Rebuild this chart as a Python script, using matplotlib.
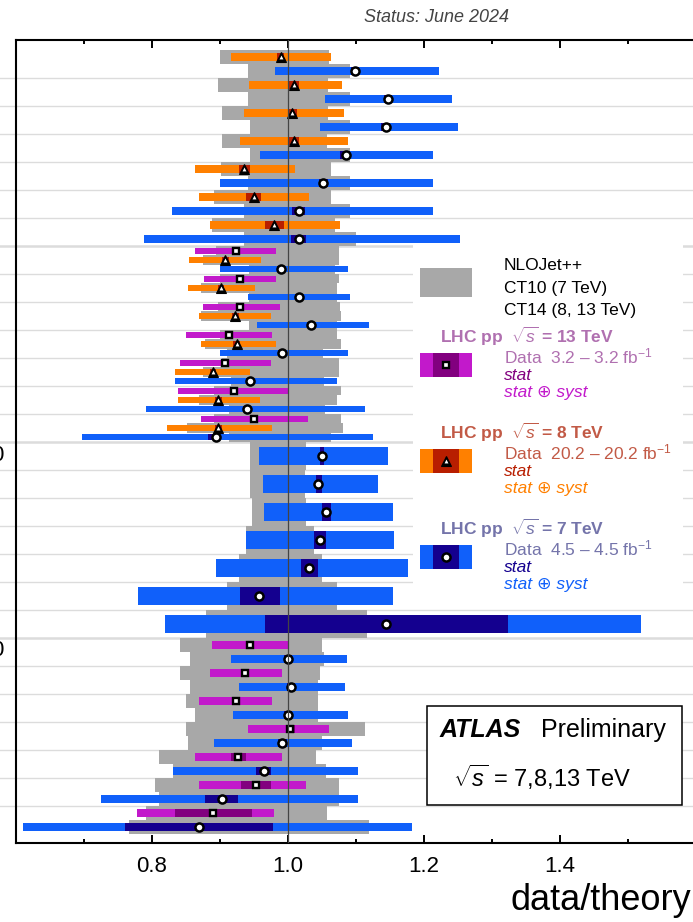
import numpy as np
import matplotlib
matplotlib.use("Agg")
import matplotlib.pyplot as plt
from matplotlib.patches import Rectangle
from matplotlib.ticker import FixedLocator

plt.rcParams["font.family"] = ["Liberation Sans", "DejaVu Sans"]
plt.rcParams["mathtext.fontset"] = "custom"
plt.rcParams["mathtext.rm"] = "Liberation Sans"
plt.rcParams["mathtext.it"] = "Liberation Sans:italic"
plt.rcParams["mathtext.bf"] = "Liberation Sans:bold"

W, H = 693, 922

# which measurements appear in each row, top to bottom
row_sets = [("8", "7")] * 7 + [("13", "8", "7")] * 7 + [("7",)] * 7 + [("13", "7")] * 7

# 7 TeV, one entry per row
r7 = [1.099, 1.148, 1.144, 1.086, 1.052, 1.016, 1.016,
      0.990, 1.017, 1.034, 0.992, 0.945, 0.940, 0.894,
      1.050, 1.045, 1.057, 1.047, 1.031, 0.958, 1.145,
      1.000, 1.005, 1.000, 0.992, 0.965, 0.903, 0.869]
tot_lo7 = [0.982, 1.055, 1.048, 0.960, 0.901, 0.830, 0.788,
           0.900, 0.942, 0.955, 0.901, 0.835, 0.791, 0.698,
           0.958, 0.963, 0.965, 0.939, 0.895, 0.780, 0.819,
           0.917, 0.929, 0.919, 0.891, 0.832, 0.726, 0.611]
tot_hi7 = [1.223, 1.241, 1.250, 1.214, 1.214, 1.214, 1.254,
           1.088, 1.092, 1.119, 1.089, 1.072, 1.113, 1.125,
           1.147, 1.133, 1.155, 1.157, 1.177, 1.155, 1.519,
           1.087, 1.085, 1.088, 1.094, 1.104, 1.104, 1.183]
stat_lo7 = [1.093, 1.142, 1.137, 1.077, 1.046, 1.007, 1.005,
            0.984, 1.011, 1.028, 0.986, 0.939, 0.934, 0.883,
            1.047, 1.041, 1.051, 1.038, 1.019, 0.930, 0.966,
            0.994, 0.999, 0.994, 0.986, 0.954, 0.879, 0.761]
stat_hi7 = [1.105, 1.154, 1.150, 1.092, 1.060, 1.025, 1.027,
            0.996, 1.023, 1.040, 0.998, 0.951, 0.946, 0.901,
            1.054, 1.051, 1.064, 1.056, 1.045, 0.988, 1.324,
            1.006, 1.011, 1.006, 0.999, 0.976, 0.927, 0.979]
th_lo7 = [0.942, 0.942, 0.944, 0.944, 0.941, 0.936, 0.935,
          0.943, 0.943, 0.943, 0.910, 0.917, 0.913, 0.914,
          0.945, 0.945, 0.948, 0.939, 0.929, 0.911, 0.880,
          0.857, 0.856, 0.863, 0.853, 0.832, 0.810, 0.766]
th_hi7 = [1.091, 1.092, 1.092, 1.092, 1.092, 1.092, 1.101,
          1.070, 1.072, 1.072, 1.052, 1.054, 1.055, 1.064,
          1.027, 1.025, 1.027, 1.038, 1.050, 1.072, 1.116,
          1.054, 1.045, 1.045, 1.050, 1.057, 1.076, 1.120]

# 8 TeV
r8 = [0.990, 1.009, 1.007, 1.009, 0.936, 0.950, 0.980,
      0.908, 0.902, 0.923, 0.925, 0.890, 0.898, 0.898]
tot_lo8 = [0.916, 0.943, 0.935, 0.930, 0.863, 0.870, 0.885,
           0.855, 0.854, 0.870, 0.872, 0.835, 0.838, 0.823]
tot_hi8 = [1.064, 1.080, 1.083, 1.089, 1.011, 1.032, 1.077,
           0.961, 0.952, 0.976, 0.983, 0.945, 0.960, 0.977]
stat_lo8 = [0.985, 1.002, 1.000, 1.001, 0.929, 0.939, 0.966,
            0.903, 0.897, 0.918, 0.920, 0.885, 0.893, 0.893]
stat_hi8 = [0.995, 1.016, 1.014, 1.016, 0.945, 0.961, 0.994,
            0.913, 0.907, 0.928, 0.930, 0.895, 0.903, 0.903]
th_lo8 = [0.901, 0.898, 0.904, 0.904, 0.902, 0.892, 0.889,
          0.875, 0.872, 0.873, 0.879, 0.876, 0.869, 0.852]
th_hi8 = [1.061, 1.060, 1.060, 1.058, 1.063, 1.063, 1.069,
          1.075, 1.072, 1.078, 1.078, 1.076, 1.073, 1.082]

# 13 TeV
r13 = [0.924, 0.930, 0.930, 0.914, 0.908, 0.921, 0.951,
       0.944, 0.937, 0.924, 1.003, 0.927, 0.953, 0.890]
tot_lo13 = [0.863, 0.877, 0.875, 0.851, 0.842, 0.838, 0.872,
            0.888, 0.885, 0.869, 0.941, 0.863, 0.870, 0.779]
tot_hi13 = [0.983, 0.983, 0.988, 0.977, 0.976, 1.000, 1.030,
            1.000, 0.991, 0.977, 1.061, 0.991, 1.027, 0.980]
stat_lo13 = [0.919, 0.925, 0.925, 0.909, 0.903, 0.916, 0.946,
             0.939, 0.932, 0.919, 0.997, 0.917, 0.932, 0.835]
stat_hi13 = [0.929, 0.935, 0.935, 0.919, 0.913, 0.926, 0.956,
             0.949, 0.942, 0.929, 1.010, 0.938, 0.975, 0.947]
th_lo13 = [0.895, 0.901, 0.898, 0.900, 0.903, 0.891, 0.891,
           0.841, 0.841, 0.851, 0.850, 0.810, 0.805, 0.791]
th_hi13 = [1.076, 1.076, 1.077, 1.073, 1.076, 1.079, 1.079,
           1.051, 1.047, 1.045, 1.113, 1.041, 1.075, 1.058]

x_major = [0.8, 1.0, 1.2, 1.4]
x_minor = [0.7, 0.9, 1.1, 1.3, 1.5]
x_labels = ["0.8", "1.0", "1.2", "1.4"]

GREY = "#a8a8a8"
style = {
    "7": dict(syst="#1060fa", stat="#14008f", marker="o"),
    "8": dict(syst="#ff8000", stat="#b81e00", marker="^"),
    "13": dict(syst="#c219cb", stat="#82007f", marker="s"),
}
data = {
    "7": (r7, tot_lo7, tot_hi7, stat_lo7, stat_hi7, th_lo7, th_hi7),
    "8": (r8, tot_lo8, tot_hi8, stat_lo8, stat_hi8, th_lo8, th_hi8),
    "13": (r13, tot_lo13, tot_hi13, stat_lo13, stat_hi13, th_lo13, th_hi13),
}

# sub-row centre and height for every entry
ypos = {k: [] for k in style}
yh = {k: [] for k in style}
for row, keys in enumerate(row_sets):
    n = len(keys)
    for j, key in enumerate(keys):
        ypos[key].append(row + (j + 0.5) / n)
        yh[key].append(1.0 / n)


def fx(px):
    return px / W


def fy(py):
    return 1 - py / H


def draw_marker(ax, x, y, kind, transform=None, zorder=6):
    kw = dict(linestyle="none", zorder=zorder, clip_on=False)
    if transform is not None:
        kw["transform"] = transform
    if kind == "o":
        ax.plot(x, y, "o", ms=5.8, mfc="white", mec="black", mew=1.8, **kw)
    elif kind == "s":
        ax.plot(x, y, "s", ms=5.0, mfc="white", mec="black", mew=1.7, **kw)
    else:
        ax.plot(x, y, "^", ms=7.4, mfc="black", mec="black", mew=0.8, **kw)
        ax.plot(x, y, "^", ms=2.8, mfc="white", mec="white", mew=0, **kw)


fig = plt.figure(figsize=(W / 100, H / 100), dpi=100)
ax = fig.add_axes([fx(15.7), 1 - 843 / H, 680 / W, 803 / H])
ax.set_xlim(0.6, 1.6)
ax.set_ylim(28.32, -0.357)

# row separators, running out past the left frame
for k in range(1, 28):
    lw = 1.8 if k in (7, 14, 21) else 1.0
    ax.hlines(k, 0.5, 1.8, colors="#dcdcdc", lw=lw, zorder=1, clip_on=False)

for key, (r, tlo, thi, slo, shi, glo, ghi) in data.items():
    y = np.array(ypos[key])
    h = np.array(yh[key])
    r, tlo, thi, slo, shi, glo, ghi = map(np.array, (r, tlo, thi, slo, shi, glo, ghi))
    ax.barh(y, ghi - glo, left=glo, height=h, color=GREY, lw=0, zorder=2)
    ax.barh(y, thi - tlo, left=tlo, height=h * 0.63, color=style[key]["syst"], lw=0, zorder=3)
    ax.barh(y, shi - slo, left=slo, height=h * 0.63, color=style[key]["stat"], lw=0, zorder=4)
    draw_marker(ax, r, y, style[key]["marker"])

ax.axvline(1.0, color="#444444", lw=0.9, zorder=7)

# white backgrounds behind legend and label box
ax.add_patch(Rectangle((fx(413), fy(607)), fx(683) - fx(413), fy(240) - fy(607),
                       transform=fig.transFigure, facecolor="white", edgecolor="none", zorder=1.5))
ax.add_patch(Rectangle((fx(427), fy(805)), fx(682) - fx(427), fy(706) - fy(805),
                       transform=fig.transFigure, facecolor="white", edgecolor="black",
                       lw=1.1, zorder=8))

for side in ("left", "top", "bottom", "right"):
    ax.spines[side].set_linewidth(1.5)
ax.set_yticks([])
ax.xaxis.set_major_locator(FixedLocator(x_major))
ax.xaxis.set_minor_locator(FixedLocator(x_minor))
ax.set_xticklabels(x_labels)
ax.tick_params(axis="x", which="both", direction="in", top=True, bottom=True,
               width=1.4, labelsize=16, pad=9)
ax.tick_params(axis="x", which="major", length=6)
ax.tick_params(axis="x", which="minor", length=3.2)

fig.text(fx(691), fy(910), "data/theory", ha="right", va="baseline", fontsize=26)
fig.text(fx(364), fy(22), "Status: June 2024", ha="left", va="baseline",
         fontsize=13, style="italic", color="#444444")

# labels on the left, mostly outside the frame
for py in (455, 650):
    fig.text(fx(3), fy(py), "0", ha="right", va="center", fontsize=16)

# legend
tr = fig.transFigure
ax.add_patch(Rectangle((fx(420), fy(297)), fx(472) - fx(420), fy(268) - fy(297),
                       transform=tr, facecolor=GREY, edgecolor="none", zorder=9, clip_on=False))
fig.text(fx(504), fy(270), "NLOJet++", fontsize=12.5, va="baseline")
fig.text(fx(504), fy(293), "CT10 (7 TeV)", fontsize=12.5, va="baseline")
fig.text(fx(504), fy(315), "CT14 (8, 13 TeV)", fontsize=12.5, va="baseline")

legend_rows = [
    ("13", "#b070b0", "3.2 \u2013 3.2", 343, 353),
    ("8", "#c25a46", "20.2 \u2013 20.2", 439, 449),
    ("7", "#7474aa", "4.5 \u2013 4.5", 535, 545),
]
for key, head_col, lumi, y0, sy in legend_rows:
    st = style[key]
    fig.text(fx(440), fy(y0), r"LHC pp  $\sqrt{s}$ = %s TeV" % key, fontsize=12.5,
             fontweight="bold", color=head_col, va="baseline")
    fig.text(fx(504), fy(y0 + 20), r"Data  %s fb$^{-1}$" % lumi, fontsize=12.5,
             color=head_col, va="baseline")
    fig.text(fx(504), fy(y0 + 37), "stat", fontsize=12.5, style="italic",
             color=st["stat"], va="baseline")
    fig.text(fx(504), fy(y0 + 54), "stat \u2295 syst", fontsize=12.5, style="italic",
             color=st["syst"], va="baseline")
    ax.add_patch(Rectangle((fx(420), fy(sy + 24)), fx(472) - fx(420), fy(sy) - fy(sy + 24),
                           transform=tr, facecolor=st["syst"], edgecolor="none",
                           zorder=9, clip_on=False))
    ax.add_patch(Rectangle((fx(433), fy(sy + 24)), fx(459) - fx(433), fy(sy) - fy(sy + 24),
                           transform=tr, facecolor=st["stat"], edgecolor="none",
                           zorder=9, clip_on=False))
    draw_marker(ax, fx(446), fy(sy + 12), st["marker"], transform=tr, zorder=10)

fig.text(fx(440), fy(737), "ATLAS", fontsize=18, fontweight="bold", style="italic",
         va="baseline", zorder=10)
fig.text(fx(541), fy(737), "Preliminary", fontsize=18, va="baseline", zorder=10)
fig.text(fx(453), fy(787), r"$\sqrt{s}$ = 7,8,13 TeV", fontsize=17, va="baseline", zorder=10)

fig.savefig("out.png", dpi=100)
